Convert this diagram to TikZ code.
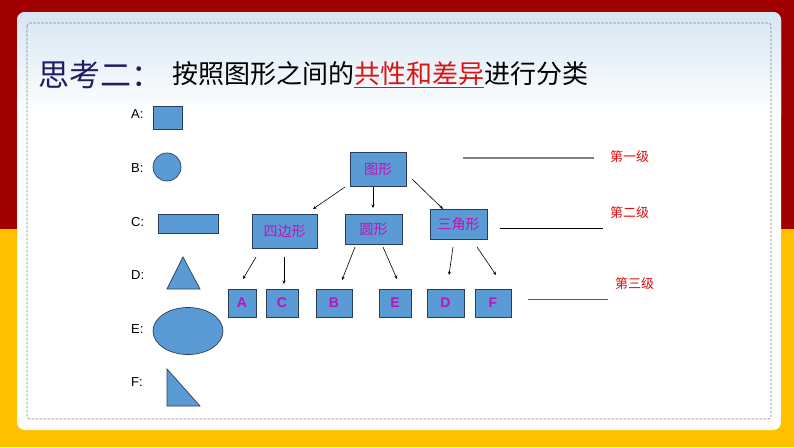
\documentclass[tikz,border=0pt]{standalone}
\usepackage{fontspec}
\setmainfont{Liberation Sans}
\newfontfamily\cjk{Noto Sans CJK SC}
\usetikzlibrary{arrows.meta}
\definecolor{bgred}{RGB}{160,0,0}
\definecolor{bgyellow}{RGB}{255,192,0}
\definecolor{sky}{RGB}{214,230,243}
\definecolor{boxblue}{RGB}{91,155,213}
\definecolor{boxedge}{RGB}{40,62,92}
\definecolor{mag}{RGB}{185,20,185}
\definecolor{navy}{RGB}{30,30,100}
\definecolor{lvlred}{RGB}{225,10,10}
\definecolor{titlered}{RGB}{220,20,20}
\tikzset{
  tbox/.style={draw=boxedge, fill=boxblue, line width=0.8pt, inner sep=0pt,
               text=mag, font=\cjk\fontsize{14}{16}\selectfont},
  lbox/.style={tbox, font=\bfseries\fontsize{14}{16}\selectfont},
  shp/.style={draw=boxedge, fill=boxblue, line width=0.7pt},
  lab/.style={anchor=west, inner sep=0pt, font=\fontsize{13}{15}\selectfont},
  conn/.style={line width=0.6pt, -{Stealth[length=3.5pt,width=3pt]}},
  lvl/.style={anchor=west, inner sep=0pt, text=lvlred, font=\cjk\fontsize{13}{15}\selectfont}
}
\begin{document}
\begin{tikzpicture}[x=1pt,y=-1pt]
\useasboundingbox (0,0) rectangle (794,447);
% background
\fill[bgred] (0,0) rectangle (794,229);
\fill[bgyellow] (0,229) rectangle (794,447);
% panel
\fill[white, rounded corners=8pt] (17,12) rectangle (781,430);
\begin{scope}
  \clip[rounded corners=8pt] (17,12) rectangle (781,430);
  \shade[top color=sky, bottom color=white] (17,12) rectangle (781,115);
\end{scope}
\draw[gray, dashed, dash pattern=on 2.5pt off 1.5pt, line width=0.6pt, rounded corners=3pt] (27,23) rectangle (771,419);
% title
\node[anchor=west, inner sep=0pt, text=navy, font=\cjk\fontsize{31}{34}\selectfont] (t1) at (38,75) {思考二：};
\node[anchor=west, inner sep=0pt, font=\cjk\fontsize{26}{30}\selectfont] (t2) at (172,75)
  {按照图形之间的\textcolor{titlered}{\underline{共性和差异}}进行分类};
% left column
\node[lab] (la) at (131,114) {A:};
\node[lab] (lb) at (131,168) {B:};
\node[lab] (lc) at (131,222) {C:};
\node[lab] (ld) at (131,275) {D:};
\node[lab] (le) at (131,329) {E:};
\node[lab] (lf) at (131,382) {F:};
\draw[shp] (153,106) rectangle (182,129);
\draw[shp] (167,167) circle (14);
\draw[shp] (158,214) rectangle (218,233);
\draw[shp] (183,257) -- (200,289) -- (167,289) -- cycle;
\draw[shp] (188,331) ellipse (35 and 23.5);
\draw[shp] (167,369) -- (200,406) -- (167,406) -- cycle;
% tree
\node[tbox, minimum width=56pt, minimum height=34pt] (root) at (378,169) {图形};
\node[tbox, minimum width=65pt, minimum height=34pt] (quad) at (284.5,231) {四边形};
\node[tbox, minimum width=57pt, minimum height=30pt] (circ) at (373.5,229) {圆形};
\node[tbox, minimum width=57pt, minimum height=30pt] (tri) at (458.5,224) {三角形};
\node[lbox, minimum width=28pt, minimum height=28pt] (nA) at (242,303) {A};
\node[lbox, minimum width=32pt, minimum height=28pt] (nC) at (282,303) {C};
\node[lbox, minimum width=36pt, minimum height=28pt] (nB) at (334,303) {B};
\node[lbox, minimum width=32pt, minimum height=28pt] (nE) at (395,303) {E};
\node[lbox, minimum width=37pt, minimum height=28pt] (nD) at (445.5,303) {D};
\node[lbox, minimum width=36pt, minimum height=28pt] (nF) at (493,303) {F};
% connector end points
\coordinate (r1s) at (345,187); \coordinate (r1e) at (313,209);
\coordinate (r2s) at (373,187); \coordinate (r2e) at (373,208);
\coordinate (r3s) at (412,179); \coordinate (r3e) at (443,209);
\coordinate (q1s) at (256,257); \coordinate (q1e) at (243,279);
\coordinate (q2s) at (284,257); \coordinate (q2e) at (284,284);
\coordinate (c1s) at (355,247); \coordinate (c1e) at (342,280);
\coordinate (c2s) at (383,247); \coordinate (c2e) at (397,279);
\coordinate (t1s) at (453,247); \coordinate (t1e) at (449,275);
\coordinate (t2s) at (477,247); \coordinate (t2e) at (496,275);
\draw[conn] (r1s) -- (r1e);
\draw[conn] (r2s) -- (r2e);
\draw[conn] (r3s) -- (r3e);
\draw[conn] (q1s) -- (q1e);
\draw[conn] (q2s) -- (q2e);
\draw[conn] (c1s) -- (c1e);
\draw[conn] (c2s) -- (c2e);
\draw[conn] (t1s) -- (t1e);
\draw[conn] (t2s) -- (t2e);
% level lines
\coordinate (l1a) at (463,158); \coordinate (l1b) at (594,158);
\coordinate (l2a) at (500,228); \coordinate (l2b) at (603,228);
\coordinate (l3a) at (528,299); \coordinate (l3b) at (608,299);
\draw[gray, line width=1.4pt] (l1a) -- (l1b);
\draw[black, line width=1pt] (l2a) -- (l2b);
\draw[black!65, line width=1pt] (l3a) -- (l3b);
\node[lvl] (v1) at (610,157) {第一级};
\node[lvl] (v2) at (610,213) {第二级};
\node[lvl] (v3) at (615,284) {第三级};
\end{tikzpicture}
\end{document}
